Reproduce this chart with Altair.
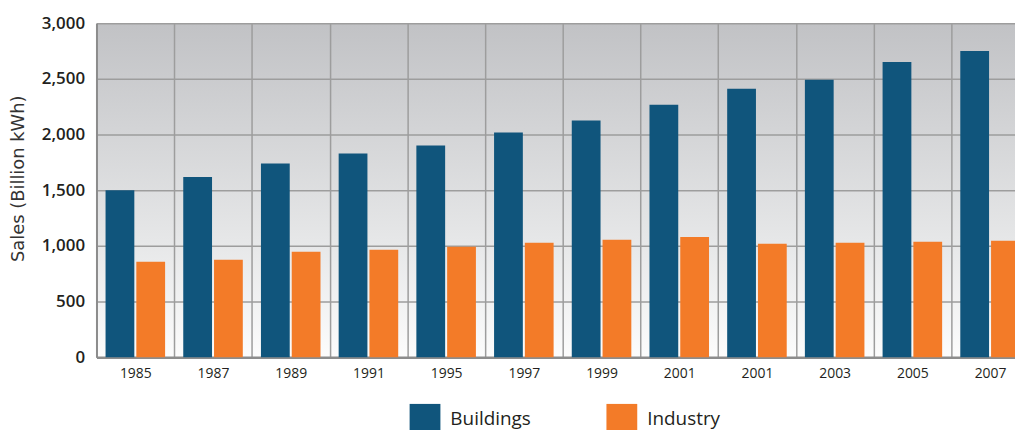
import altair as alt
import pandas as pd

years = ["1985", "1987", "1989", "1991", "1995", "1997", "1999", "2001", "2001", "2003", "2005", "2007"]
buildings = [1500, 1618, 1740, 1830, 1902, 2018, 2125, 2268, 2411, 2491, 2652, 2750]
industry = [857, 875, 946, 964, 991, 1027, 1054, 1080, 1018, 1027, 1036, 1045]
series = ["Buildings", "Industry"]
colors = ["#10557c", "#f37b28"]

keys = [f"{y}|{i}" for i, y in enumerate(years)]
rows = []
for k, b, ind in zip(keys, buildings, industry):
    rows.append({"key": k, "series": "Buildings", "value": b})
    rows.append({"key": k, "series": "Industry", "value": ind})
df = pd.DataFrame(rows)

grad_expr = (
    "{gradient: 'linear', x1: 0, y1: 0, x2: 0, y2: 1, stops: ["
    "{offset: 0, color: '#c1c2c5'}, {offset: 0.65, color: '#e6e7e8'}, {offset: 1, color: '#fcfcfc'}]}"
)

chart = (
    alt.Chart(df)
    .mark_bar()
    .encode(
        x=alt.X(
            "key:N",
            sort=keys,
            scale=alt.Scale(paddingInner=0, paddingOuter=0, range=[0, 938]),
            axis=alt.Axis(
                title=None,
                labelExpr="isValid(datum.value) ? split(datum.value, '|')[0] : ''",
                labelAngle=0,
                labelFont="Open Sans",
                labelFontSize=14,
                labelColor="#231f20",
                labelPadding=9,
                ticks=False,
                tickBand="extent",
                grid=True,
                gridColor="#9d9d9d",
                gridWidth=1.5,
                domainColor="#8c8c8c",
                domainWidth=2.5,
            ),
        ),
        xOffset=alt.XOffset(
            "series:N",
            sort=series,
            scale=alt.Scale(paddingInner=0.065, paddingOuter=0.295),
        ),
        y=alt.Y(
            "value:Q",
            scale=alt.Scale(domain=[0, 3000], nice=False),
            axis=alt.Axis(
                title="Sales (Billion kWh)",
                values=[0, 500, 1000, 1500, 2000, 2500, 3000],
                format=",d",
                labelFont="Open Sans",
                labelFontSize=17,
                labelFontWeight=600,
                labelColor="#231f20",
                labelPadding=12,
                ticks=False,
                titleFont="DejaVu Sans",
                titleFontSize=18,
                titleFontWeight="normal",
                titleColor="#333333",
                titleX=-78,
                titleY=156,
                titleBaseline="middle",
                grid=True,
                gridColor="#9d9d9d",
                gridWidth=1.5,
                domainColor="#8c8c8c",
                domainWidth=2,
            ),
        ),
        color=alt.Color(
            "series:N",
            sort=series,
            scale=alt.Scale(domain=series, range=colors),
            legend=alt.Legend(
                title=None,
                orient="none",
                direction="horizontal",
                legendX=315,
                legendY=383,
                symbolType="square",
                symbolSize=960,
                symbolStrokeWidth=0,
                symbolOpacity=1,
                labelFont="Open Sans",
                labelFontSize=19,
                labelFontWeight=500,
                labelColor="#231f20",
                labelOffset=10,
                columnPadding=76,
            ),
        ),
    )
    .properties(
        width=924,
        height=336,
        padding={"left": 89, "top": 14, "right": 0, "bottom": 72},
        autosize=alt.AutoSizeParams(type="none"),
    )
    .configure_view(fill={"expr": grad_expr}, stroke=None)
)

chart.save("out.html", embed_options={"renderer": "svg", "actions": False})
